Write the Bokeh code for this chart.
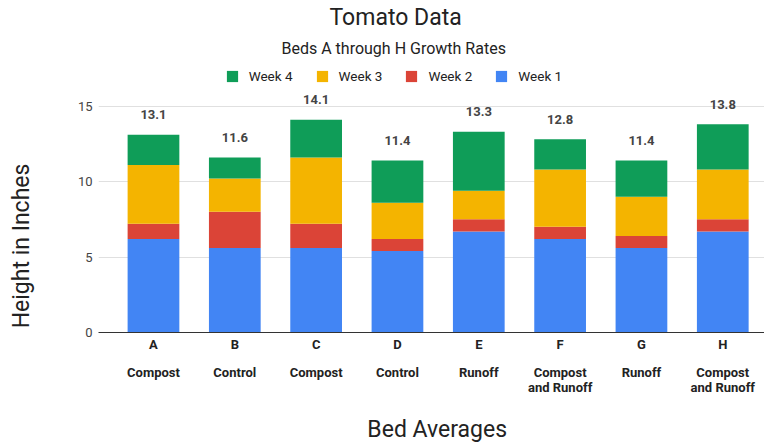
from bokeh.plotting import figure
from bokeh.models import (ColumnDataSource, Legend, LegendItem, LinearAxis,
                          FixedTicker, Title, Range1d)
from bokeh.core.properties import value
from bokeh.embed import file_html
from bokeh.resources import INLINE

# ---- data ----
beds = ["A", "B", "C", "D", "E", "F", "G", "H"]
treatments = ["Compost", "Control", "Compost", "Control", "Runoff",
              "Compost\nand Runoff", "Runoff", "Compost\nand Runoff"]
week1 = [6.2, 5.6, 5.6, 5.4, 6.7, 6.2, 5.6, 6.7]
week2 = [1.0, 2.4, 1.6, 0.8, 0.8, 0.8, 0.8, 0.8]
week3 = [3.9, 2.2, 4.4, 2.4, 1.9, 3.8, 2.6, 3.3]
week4 = [2.0, 1.4, 2.5, 2.8, 3.9, 2.0, 2.4, 3.0]
totals = [13.1, 11.6, 14.1, 11.4, 13.3, 12.8, 11.4, 13.8]
series_names = ["Week 1", "Week 2", "Week 3", "Week 4"]
colors = ["#4285F4", "#DB4437", "#F4B400", "#0F9D58"]
y_ticks = [0, 5, 10, 15]

FONT = "Roboto"
NB = "\u00a0"
xs = list(range(len(beds)))
src = ColumnDataSource(dict(x=xs, w1=week1, w2=week2, w3=week3, w4=week4,
                            total=totals, label=[f"{t:.1f}" for t in totals]))

p = figure(width=764, height=446, output_backend="svg", toolbar_location=None,
           x_range=Range1d(-0.676, 7.513), y_range=Range1d(0, 17.89),
           min_border_left=98, min_border_right=0, min_border_top=62,
           min_border_bottom=114, title=None)
p.outline_line_color = None
p.xgrid.grid_line_color = None
p.ygrid.grid_line_color = "#e0e0e0"
p.ygrid.ticker = FixedTicker(ticks=y_ticks)

rs = p.vbar_stack(["w1", "w2", "w3", "w4"], x="x", width=0.636, color=colors,
                  line_color=None, source=src)

p.text(x="x", y="total", text="label", source=src, text_align="center",
       text_baseline="middle", y_offset=-20, text_font=value(FONT),
       text_font_style="bold", text_font_size="13px", text_color="#444444")

# y axis
ya = p.yaxis[0]
ya.ticker = FixedTicker(ticks=y_ticks)
ya.axis_line_color = None
ya.major_tick_line_color = None
ya.minor_tick_line_color = None
ya.major_tick_out = 0
ya.major_label_standoff = 6
ya.major_label_text_font = FONT
ya.major_label_text_font_size = "13px"
ya.major_label_text_color = "#444444"
ya.axis_label = "Height in Inches" + NB * 17
ya.axis_label_standoff = 40
ya.axis_label_text_font = FONT
ya.axis_label_text_font_style = "normal"
ya.axis_label_text_font_size = "23px"
ya.axis_label_text_color = "#222222"

# x axis: bed letters
xa = p.xaxis[0]
xa.ticker = FixedTicker(ticks=xs)
xa.major_label_overrides = {i: b for i, b in zip(xs, beds)}
xa.axis_line_color = "#333333"
xa.major_tick_line_color = None
xa.minor_tick_line_color = None
xa.major_tick_out = 0
xa.major_label_standoff = 4
xa.major_label_text_font = FONT
xa.major_label_text_font_style = "bold"
xa.major_label_text_font_size = "13px"
xa.major_label_text_color = "#222222"

# x axis: treatments
xa2 = LinearAxis(ticker=FixedTicker(ticks=xs),
                 major_label_overrides={i: t for i, t in zip(xs, treatments)})
xa2.axis_line_color = None
xa2.major_tick_line_color = None
xa2.minor_tick_line_color = None
xa2.major_tick_out = 0
xa2.major_label_standoff = 10
xa2.major_label_text_font = FONT
xa2.major_label_text_font_style = "bold"
xa2.major_label_text_font_size = "13px"
xa2.major_label_text_line_height = 1.05
xa2.major_label_text_color = "#222222"
xa2.axis_label = NB * 2 + "Bed Averages"
xa2.axis_label_standoff = 18
xa2.axis_label_text_font = FONT
xa2.axis_label_text_font_style = "normal"
xa2.axis_label_text_font_size = "23px"
xa2.axis_label_text_line_height = 1.0
xa2.axis_label_text_color = "#222222"
p.add_layout(xa2, "below")

# legend
items = [LegendItem(label=series_names[i], renderers=[rs[i]]) for i in [3, 2, 1, 0]]
legend = Legend(items=items, orientation="horizontal", location=(126.7, 248),
                padding=0, margin=0, spacing=22, label_standoff=10,
                glyph_width=14, glyph_height=14, label_height=14,
                label_text_font=FONT, label_text_font_size="13.5px",
                label_text_color="#222222", border_line_color=None,
                background_fill_alpha=0)
p.add_layout(legend)

# titles (first added sits closest to the plot)
p.add_layout(Title(text="Beds A through H Growth Rates", align="left", offset=183,
                   standoff=9, text_font=FONT, text_font_style="normal",
                   text_font_size="16px", text_color="#222222"), "above")
p.add_layout(Title(text="Tomato Data", align="left", offset=231, standoff=3,
                   text_font=FONT, text_font_style="normal",
                   text_font_size="23px", text_color="#222222"), "above")

open("out.html", "w").write(file_html(p, INLINE))
